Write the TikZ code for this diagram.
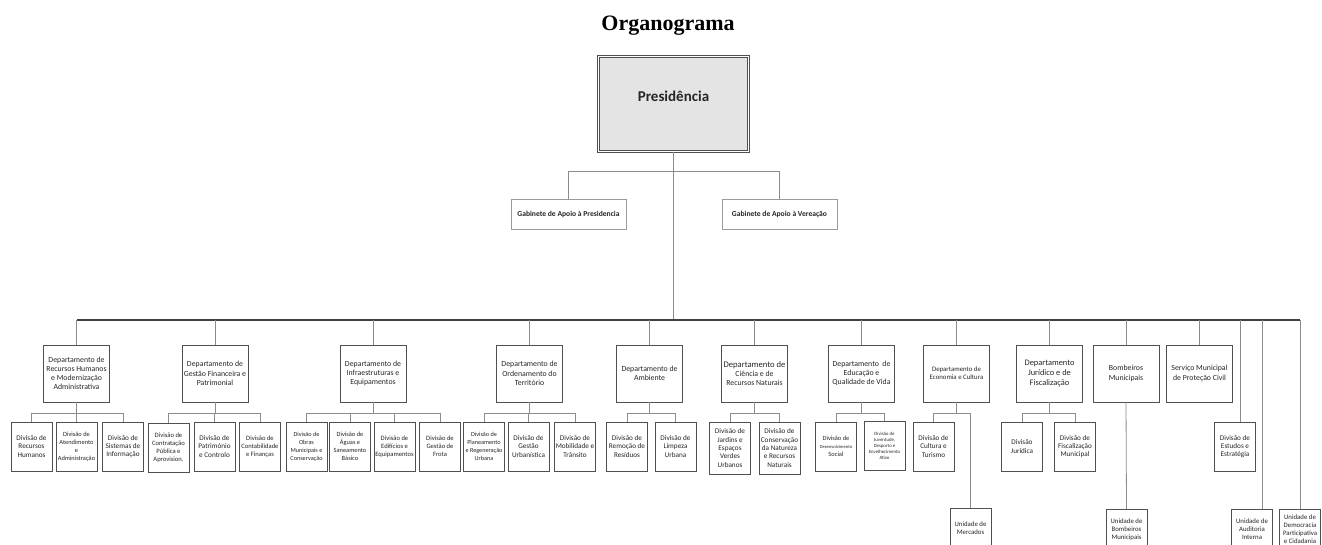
\documentclass[tikz,border=0pt]{standalone}
\usepackage{fontspec}
\setmainfont{Carlito}
\newfontfamily\titlefont{Liberation Serif}
\definecolor{boxline}{HTML}{505050}
\definecolor{gabline}{HTML}{9A9A9A}
\definecolor{linegray}{HTML}{8C8C8C}
\definecolor{busline}{HTML}{404040}
\definecolor{presfill}{HTML}{E4E4E4}
\definecolor{textgray}{HTML}{262626}
\tikzset{
  box/.style= {draw=boxline, line width=0.9pt, fill=white, align=center, inner sep=1pt, text=textgray},
  pres/.style= {box, fill=presfill, double=white, double distance=1.4pt, line width=0.7pt, text depth=15pt,
                minimum width=150, minimum height=95, font=\bfseries\fontsize{15}{17}\selectfont},
  gab/.style= {box, draw=gabline, minimum width=115, minimum height=30, font=\bfseries\fontsize{7.6}{9}\selectfont},
  dept/.style= {box, minimum width=66, minimum height=57, font=\fontsize{7.8}{9.2}\selectfont},
  div/.style= {box, minimum width=41, minimum height=49, font=\fontsize{7.2}{8.3}\selectfont},
  unit/.style= {div, anchor=north, minimum height=40, font=\fontsize{6.8}{8}\selectfont},
  link/.style= {draw=linegray, line width=0.8pt},
  bus/.style= {draw=busline, line width=1.2pt},
}

\begin{document}
\begin{tikzpicture}[x=1pt, y=-1pt]
  \useasboundingbox (0,0) rectangle (1322,545);
  \clip (0,0) rectangle (1322,545);
  \coordinate (gabbus) at (0,171);
  \coordinate (mainbus) at (0,320);
  \coordinate (divbus) at (0,413);

  \node [font=\titlefont\bfseries\fontsize{22}{24}\selectfont] (title) at (668,26) {Organograma} ;
  \node [pres] (pres) at (673.5,104) {Presidência} ;
  \node [gab] (gabP) at (568.5,214) {Gabinete de Apoio à Presidencia} ;
  \node [gab] (gabV) at (779.5,214) {Gabinete de Apoio à Vereação} ;

  % departamentos
  \node [dept] (dRH) at (76.5,373.5) {Departamento de\\Recursos Humanos\\e Modernização\\Administrativa} ;
  \node [dept] (dGF) at (215,373.5) {Departamento de\\Gestão Financeira e\\Patrimonial} ;
  \node [dept] (dIE) at (373,373.5) {Departamento de\\Infraestruturas e\\Equipamentos} ;
  \node [dept] (dOT) at (529.5,373.5) {Departamento de\\Ordenamento do\\Território} ;
  \node [dept] (dAmb) at (649.5,373.5) {Departamento de\\Ambiente} ;
  \node [dept] (dCRN) at (754.5,373.5) {{\fontsize{8.6}{9.2}\selectfont Departamento de}\\Ciência e de\\Recursos Naturais} ;
  \node [dept] (dEQV) at (861.5,373.5) {Departamento~~de\\Educação e\\Qualidade de Vida} ;
  \node [dept, font=\fontsize{6.8}{8.2}\selectfont] (dEC) at (956.5,373.5) {Departamento de\\Economia e Cultura} ;
  \node [dept, font=\fontsize{8.4}{9.6}\selectfont] (dJF) at (1049.5,373.5) {Departamento\\Jurídico e de\\Fiscalização} ;
  \node [dept] (bomb) at (1126,373.5) {Bombeiros\\Municipais} ;
  \node [dept] (spc) at (1199.5,373.5) {Serviço Municipal\\de Proteção Civil} ;

  % divisoes
  \node [div] (vRH1) at (31.5,446.5) {Divisão de\\Recursos\\Humanos} ;
  \node [div, font=\fontsize{6.4}{8}\selectfont] (vRH2) at (76.5,446.5) {Divisão de\\Atendimento\\e\\Administração} ;
  \node [div] (vRH3) at (123,446.5) {Divisão de\\Sistemas de\\Informação} ;
  \node [div, font=\fontsize{6.6}{8}\selectfont] (vGF1) at (168.5,447.5) {Divisão de\\Contratação\\Pública e\\Aprovision.} ;
  \node [div] (vGF2) at (214.5,446.5) {Divisão de\\Património\\e Controlo} ;
  \node [div, font=\fontsize{6.6}{8}\selectfont] (vGF3) at (260,446.5) {Divisão de\\Contabilidade\\e Finanças} ;
  \node [div, font=\fontsize{6.2}{8}\selectfont] (vIE1) at (306.5,446.5) {Divisão de\\Obras\\Municipais e\\Conservação} ;
  \node [div, font=\fontsize{6.4}{8}\selectfont] (vIE2) at (350,446.5) {Divisão de\\Águas e\\Saneamento\\Básico} ;
  \node [div, font=\fontsize{6.6}{8}\selectfont] (vIE3) at (394.5,446.5) {Divisão de\\Edifícios e\\Equipamentos} ;
  \node [div, font=\fontsize{6.6}{8}\selectfont] (vIE4) at (440,446.5) {Divisão de\\Gestão de\\Frota} ;
  \node [div, font=\fontsize{6.2}{8}\selectfont] (vOT1) at (484,446.5) {Divisão de\\Planeamento\\e Regeneração\\Urbana} ;
  \node [div] (vOT2) at (528.5,446.5) {Divisão de\\Gestão\\Urbanística} ;
  \node [div] (vOT3) at (575,446.5) {Divisão de\\Mobilidade e\\Trânsito} ;
  \node [div] (vAmb1) at (627,446.5) {Divisão de\\Remoção de\\Resíduos} ;
  \node [div] (vAmb2) at (675.5,446.5) {Divisão de\\Limpeza\\Urbana} ;
  \node [div, minimum height=52] (vCRN1) at (730,448) {Divisão de\\Jardins e\\Espaços\\Verdes\\Urbanos} ;
  \node [div, minimum height=52] (vCRN2) at (779.5,448) {Divisão de\\Conservação\\da Natureza\\e Recursos\\Naturais} ;
  \node [div, font=\fontsize{6.4}{8}\selectfont] (vEQV1) at (836,446.5) {Divisão de\\{\fontsize{4.6}{6}\selectfont Desenvolvimento}\\Social} ;
  \node [div, font=\fontsize{4.8}{6}\selectfont] (vEQV2) at (884.5,445.5) {Divisão de\\Juventude,\\Desporto e\\Envelhecimento\\Ativo} ;
  \node [div] (vEC1) at (933.5,446.5) {Divisão de\\Cultura e\\Turismo} ;
  \node [div] (vJF1) at (1022,446.5) {Divisão\\Jurídica} ;
  \node [div] (vJF2) at (1075,446.5) {Divisão de\\Fiscalização\\Municipal} ;
  \node [div] (vEE) at (1235,446.5) {Divisão de\\Estudos e\\Estratégia} ;

  % unidades
  \node [unit] (uMer) at (970.5,508) {Unidade de\\Mercados} ;
  \node [unit] (uBM) at (1126.5,509) {Unidade de\\Bombeiros\\Municipais} ;
  \node [unit] (uAI) at (1252,509) {Unidade de\\Auditoria\\Interna} ;
  \node [unit] (uDC) at (1300,509) {Unidade de\\Democracia\\Participativa\\e Cidadania} ;
  \coordinate (eeTop) at ([xshift=5]vEE.north) ;
  \coordinate (aiTop) at ([xshift=10]uAI.north) ;

  % ligacoes
  \draw [link] (gabP.north) |- (gabV.north |- gabbus) -- (gabV.north) ;
  \draw [link] (pres.south) -- (pres.south |- mainbus) ;
  \draw [bus] (dRH.north |- mainbus) -- (uDC.north |- mainbus) ;
  \foreach \d in {dRH,dGF,dIE,dOT,dAmb,dCRN,dEQV,dEC,dJF,bomb,spc,eeTop,aiTop,uDC}
    \draw [link] (\d.north |- mainbus) -- (\d) ;
  \foreach \d/\first/\last in {dRH/vRH1/vRH3, dGF/vGF1/vGF3, dIE/vIE1/vIE4, dOT/vOT1/vOT3,
      dAmb/vAmb1/vAmb2, dCRN/vCRN1/vCRN2, dEQV/vEQV1/vEQV2, dJF/vJF1/vJF2, dEC/vEC1/uMer}
    \draw [link] (\d.south) -- (\d.south |- divbus) (\first.north |- divbus) -- (\last.north |- divbus) ;
  \foreach \v in {vRH1,vRH2,vRH3,vGF1,vGF2,vGF3,vIE1,vIE2,vIE3,vIE4,vOT1,vOT2,vOT3,
      vAmb1,vAmb2,vCRN1,vCRN2,vEQV1,vEQV2,vEC1,uMer,vJF1,vJF2}
    \draw [link] (\v.north |- divbus) -- (\v.north) ;
  \draw [link] (bomb.south) -- (uBM.north) ;
\end{tikzpicture}
\end{document}
